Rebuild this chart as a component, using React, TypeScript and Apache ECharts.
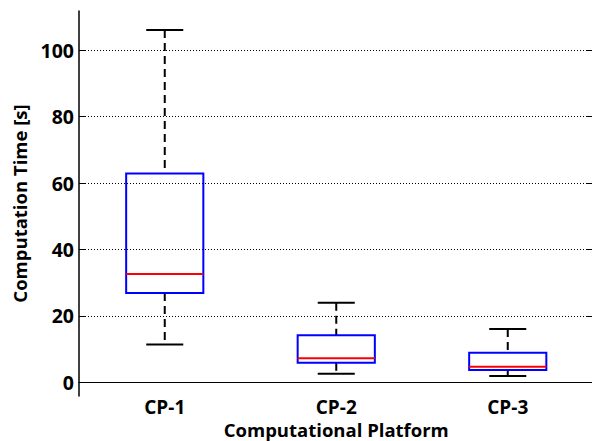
import React, { useEffect, useRef } from "react";
import * as echarts from "echarts";

const categories = ["CP-1", "CP-2", "CP-3"];
const lowerWhisker = [11.4, 2.6, 1.9];
const q1Values = [26.9, 5.9, 3.7];
const medianValues = [32.6, 7.3, 4.7];
const q3Values = [62.9, 14.2, 8.9];
const upperWhisker = [106.1, 24.0, 16.1];
const yTicks = [0, 20, 40, 60, 80, 100];
const yMin = -4.1;
const yMax = 111.8;

const FONT = "Open Sans";

export default function App() {
  const ref = useRef<HTMLDivElement>(null);
  useEffect(() => {
    document.documentElement.style.margin = "0";
    document.documentElement.style.overflow = "hidden";
    document.body.style.margin = "0";
    document.body.style.overflow = "hidden";
    if (!ref.current) return;
    const chart = echarts.init(ref.current, null, { renderer: "svg" });
    const data = categories.map((_, i) => [
      i,
      lowerWhisker[i],
      q1Values[i],
      medianValues[i],
      q3Values[i],
      upperWhisker[i],
    ]);
    const yAxisCommon = {
      type: "value" as const,
      min: yMin,
      max: yMax,
      axisLine: { show: true, lineStyle: { color: "#000", width: 1.5 } },
      axisTick: {
        show: true,
        inside: true,
        length: 7,
        customValues: yTicks,
        lineStyle: { color: "#000", width: 1 },
      },
      splitLine: { show: false },
    };
    chart.setOption({
      animation: false,
      grid: {
        left: 79,
        top: 11,
        width: 514.5,
        height: 385,
        containLabel: false,
        outerBoundsMode: "none",
      },
      xAxis: [
        {
          type: "category",
          data: categories,
          boundaryGap: true,
          position: "bottom",
          axisLine: { show: true, lineStyle: { color: "#000", width: 1 } },
          axisTick: { show: false },
          axisLabel: {
            color: "#000",
            fontFamily: FONT,
            fontWeight: "bold",
            fontSize: 19,
            margin: 1,
          },
          name: "Computational Platform",
          nameLocation: "middle",
          nameGap: 24,
          nameMoveOverlap: false,
          nameTextStyle: {
            color: "#000",
            fontFamily: FONT,
            fontWeight: "bold",
            fontSize: 18.5,
          },
        },
        {
          type: "category",
          data: categories,
          position: "top",
          axisLine: { show: true, lineStyle: { color: "#000", width: 1 } },
          axisTick: { show: false },
          axisLabel: { show: false },
        },
      ],
      yAxis: [
        {
          ...yAxisCommon,
          position: "left",
          axisLabel: {
            customValues: yTicks,
            color: "#000",
            fontFamily: FONT,
            fontWeight: "bold",
            fontSize: 19.5,
            margin: 5,
          },
          name: "Computation Time [s]",
          nameLocation: "middle",
          nameGap: 50,
          nameTextStyle: {
            color: "#000",
            fontFamily: FONT,
            fontWeight: "bold",
            fontSize: 18.5,
          },
        },
        {
          ...yAxisCommon,
          position: "right",
          axisLabel: { show: false },
        },
      ],
      series: [
        {
          type: "custom",
          xAxisIndex: 0,
          yAxisIndex: 0,
          data,
          encode: { x: 0, y: [1, 2, 3, 4, 5] },
          markLine: {
            silent: true,
            symbol: "none",
            label: { show: false },
            lineStyle: { color: "#000", width: 1, type: [1, 2] },
            data: yTicks.map((v) => ({ yAxis: v })),
          },
          renderItem: (params: any, api: any) => {
            const idx = api.value(0);
            const lo = api.coord([idx, api.value(1)]);
            const q1 = api.coord([idx, api.value(2)]);
            const med = api.coord([idx, api.value(3)]);
            const q3 = api.coord([idx, api.value(4)]);
            const hi = api.coord([idx, api.value(5)]);
            const band = api.size([1, 0])[0];
            const bw = band * 0.45;
            const cw = band * 0.216;
            const cx = lo[0];
            const dashStyle = { stroke: "#000", lineWidth: 2, lineDash: [8, 5] };
            const solid = { stroke: "#000", lineWidth: 2 };
            return {
              type: "group",
              children: [
                { type: "line", shape: { x1: cx, y1: hi[1], x2: cx, y2: q3[1] }, style: dashStyle },
                { type: "line", shape: { x1: cx, y1: q1[1], x2: cx, y2: lo[1] }, style: dashStyle },
                { type: "line", shape: { x1: cx - cw / 2, y1: hi[1], x2: cx + cw / 2, y2: hi[1] }, style: solid },
                { type: "line", shape: { x1: cx - cw / 2, y1: lo[1], x2: cx + cw / 2, y2: lo[1] }, style: solid },
                {
                  type: "rect",
                  shape: { x: cx - bw / 2, y: q3[1], width: bw, height: q1[1] - q3[1] },
                  style: { fill: "none", stroke: "#0000ff", lineWidth: 2 },
                },
                {
                  type: "line",
                  shape: { x1: cx - bw / 2, y1: med[1], x2: cx + bw / 2, y2: med[1] },
                  style: { stroke: "#ff0000", lineWidth: 2 },
                },
              ],
            };
          },
        },
      ],
    });
    return () => chart.dispose();
  }, []);
  return (
    <div
      ref={ref}
      style={{ position: "relative", width: 592, height: 441, overflow: "hidden", background: "#fff" }}
    />
  );
}
